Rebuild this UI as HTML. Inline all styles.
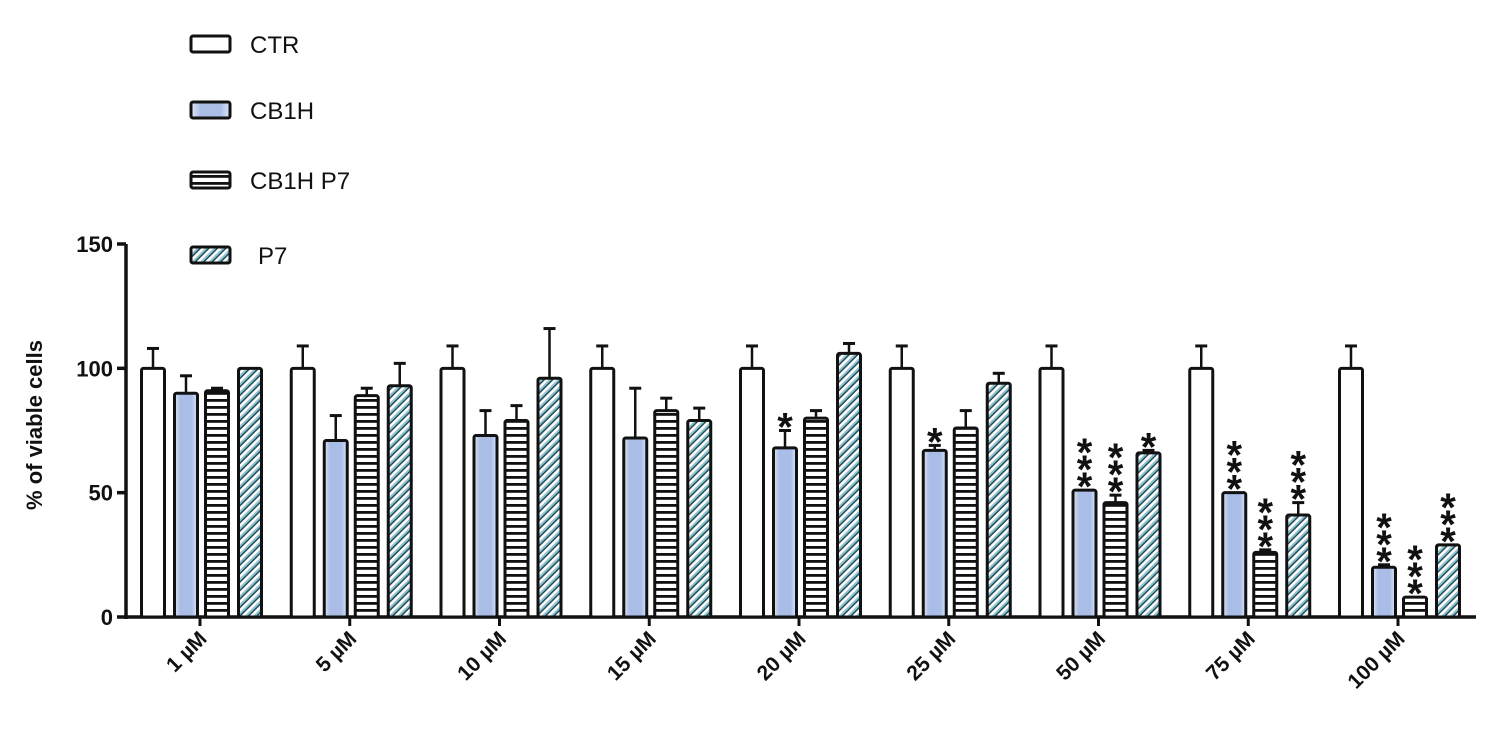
<!DOCTYPE html>
<html><head><meta charset="utf-8"><style>
body{margin:0;background:#fff;width:1486px;height:737px;overflow:hidden}
svg{font-family:"Liberation Sans",Arial,sans-serif}
</style></head><body>
<svg id="chart" width="1486" height="737">
<defs>
<pattern id="stripes" width="8" height="7" patternUnits="userSpaceOnUse"><rect width="8" height="7" fill="#fff"/><rect y="0" width="8" height="2.8" fill="#111"/></pattern>
<pattern id="hatch" width="6" height="6" patternUnits="userSpaceOnUse" patternTransform="rotate(45)"><rect width="6" height="6" fill="#2a4a55"/><rect x="0" width="2.5" height="6" fill="#fff"/><rect x="2.5" width="2" height="6" fill="#8cc6d4"/></pattern>
<linearGradient id="blue" x1="0" x2="1"><stop offset="0" stop-color="#dde6f7"/><stop offset="0.25" stop-color="#a9bde6"/><stop offset="0.75" stop-color="#a9bde6"/><stop offset="1" stop-color="#dde6f7"/></linearGradient>
</defs>
<g id="legend"></g>
<g id="axes"></g>
<g id="bars"></g>
</svg>
<script>
const categories=["1 µM","5 µM","10 µM","15 µM","20 µM","25 µM","50 µM","75 µM","100 µM"];
const seriesNames=["CTR","CB1H","CB1H P7","P7"];
const ctrVals=[100,100,100,100,100,100,100,100,100];
const ctrErr=[108,109,109,109,109,109,109,109,109];
const cb1hVals=[90,71,73,72,68,67,51,50,20];
const cb1hErr=[97,81,83,92,75,69,51,50,21];
const cbp7Vals=[91,89,79,83,80,76,46,26,8];
const cbp7Err=[92,92,85,88,83,83,49,27,8];
const p7Vals=[100,93,96,79,106,94,66,41,29];
const p7Err=[100,102,116,84,110,98,67,46,29];
const cb1hSig=["","","","","*","*","***","***","***"];
const cbp7Sig=["","","","","","","***","***","***"];
const p7Sig=["","","","","","","*","***","***"];
const yTicks=[0,50,100,150];

const NS="http://www.w3.org/2000/svg";
function mk(tag,attrs,parent){const e=document.createElementNS(NS,tag);for(const k in attrs)e.setAttribute(k,attrs[k]);parent.appendChild(e);return e;}
const y=v=>617-v*(373/150);
const x=i=>200+i*149.75;
const axes=document.getElementById('axes'),bars=document.getElementById('bars'),legend=document.getElementById('legend');

let yl=mk('line',{x1:126,y1:y(150),x2:126,y2:619,stroke:'#111','stroke-width':3.5},axes);


let xl=mk('line',{x1:124,y1:617,x2:1476,y2:617,stroke:'#111','stroke-width':3.5},axes);


yTicks.forEach(t=>{
  let l=mk('line',{x1:117,y1:y(t),x2:126,y2:y(t),stroke:'#111','stroke-width':3.5},axes);
  
  
  let tx=mk('text',{x:113,y:y(t)+8,'text-anchor':'end','font-size':22,'font-weight':'bold',fill:'#111'},axes);
  tx.textContent=t;
  
  
});
let yt=mk('text',{x:0,y:0,'text-anchor':'middle','font-size':22,'font-weight':'bold',fill:'#111',transform:'translate(42,425) rotate(-90)'},axes);
yt.textContent='% of viable cells';



const fills=['#fff','url(#blue)','url(#stripes)','url(#hatch)'];
const offs=[-47,-14,17,50];
const vals=[ctrVals,cb1hVals,cbp7Vals,p7Vals];
const errs=[ctrErr,cb1hErr,cbp7Err,p7Err];
const sigs=[null,cb1hSig,cbp7Sig,p7Sig];
categories.forEach((c,i)=>{
  const cx=x(i);
  let tk=mk('line',{x1:cx,y1:617,x2:cx,y2:626,stroke:'#111','stroke-width':3},axes);
  
  
  let lb=mk('text',{x:0,y:0,'text-anchor':'end','font-size':21,'font-weight':'bold',fill:'#111',transform:`translate(${cx+8},640) rotate(-45)`},axes);
  lb.textContent=c;
  
  
  for(let s=0;s<4;s++){
    const bx=cx+offs[s]-11.5, v=vals[s][i], e=errs[s][i];
    if(e>v){
      let el=mk('line',{x1:cx+offs[s],y1:y(e),x2:cx+offs[s],y2:y(v),stroke:'#111','stroke-width':2.5},bars);
      
      
      let ec=mk('line',{x1:cx+offs[s]-6,y1:y(e),x2:cx+offs[s]+6,y2:y(e),stroke:'#111','stroke-width':3},bars);
      
      
    }
    let r=mk('rect',{x:bx,y:y(v),width:23,height:617-y(v),fill:fills[s],stroke:'#111','stroke-width':3,rx:2},bars);
    
    
    if(sigs[s]&&sigs[s][i]){
      const n=sigs[s][i].length;
      for(let k=0;k<n;k++){
        let st=mk('text',{x:cx+offs[s],y:y(e)-10-k*17+20,'text-anchor':'middle','font-size':40,'font-weight':'bold',fill:'#111'},bars);
        st.textContent='*';
        
        
      }
    }
  }
});
const legY=[44,110,180,255];
seriesNames.forEach((n,s)=>{
  let r=mk('rect',{x:191,y:legY[s]-8,width:39,height:16,fill:fills[s],stroke:'#111','stroke-width':3,rx:2},legend);
  
  
  let t=mk('text',{x:s==3?258:250,y:legY[s]+9,'font-size':24,fill:'#111'},legend);
  t.textContent=n;
  
  
});
</script>
</body></html>
